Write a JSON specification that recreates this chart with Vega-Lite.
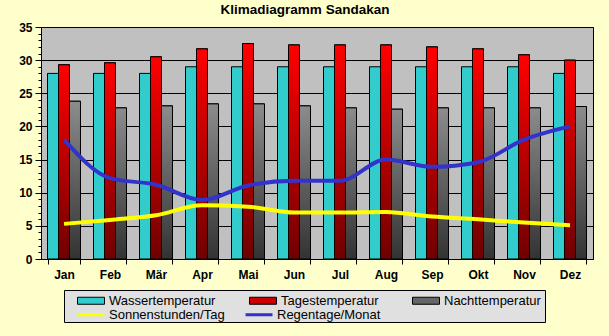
{
  "$schema": "https://vega.github.io/schema/vega-lite/v6.json",
  "width": 552,
  "height": 232,
  "autosize": {"type": "none"},
  "padding": {"left": 41, "top": 27, "right": 16, "bottom": 77},
  "background": "#FFFFCC",
  "title": {"text": "Klimadiagramm Sandakan", "fontSize": 13.5, "fontWeight": "bold", "font": "Liberation Sans", "anchor": "middle", "offset": 5, "dx": -12, "color": "#000"},
  "config": {
    "view": {"fill": "#C0C0C0", "stroke": "#000", "strokeWidth": 1},
    "font": "Liberation Sans"
  },
  "data": {"values": [
    {"m":"Jan","s":"Wassertemperatur","v":28},{"m":"Feb","s":"Wassertemperatur","v":28},{"m":"Mär","s":"Wassertemperatur","v":28},{"m":"Apr","s":"Wassertemperatur","v":29},{"m":"Mai","s":"Wassertemperatur","v":29},{"m":"Jun","s":"Wassertemperatur","v":29},{"m":"Jul","s":"Wassertemperatur","v":29},{"m":"Aug","s":"Wassertemperatur","v":29},{"m":"Sep","s":"Wassertemperatur","v":29},{"m":"Okt","s":"Wassertemperatur","v":29},{"m":"Nov","s":"Wassertemperatur","v":29},{"m":"Dez","s":"Wassertemperatur","v":28},
    {"m":"Jan","s":"Tagestemperatur","v":29.3},{"m":"Feb","s":"Tagestemperatur","v":29.6},{"m":"Mär","s":"Tagestemperatur","v":30.5},{"m":"Apr","s":"Tagestemperatur","v":31.7},{"m":"Mai","s":"Tagestemperatur","v":32.5},{"m":"Jun","s":"Tagestemperatur","v":32.3},{"m":"Jul","s":"Tagestemperatur","v":32.3},{"m":"Aug","s":"Tagestemperatur","v":32.3},{"m":"Sep","s":"Tagestemperatur","v":32.0},{"m":"Okt","s":"Tagestemperatur","v":31.7},{"m":"Nov","s":"Tagestemperatur","v":30.8},{"m":"Dez","s":"Tagestemperatur","v":30.0},
    {"m":"Jan","s":"Nachttemperatur","v":23.8},{"m":"Feb","s":"Nachttemperatur","v":22.8},{"m":"Mär","s":"Nachttemperatur","v":23.1},{"m":"Apr","s":"Nachttemperatur","v":23.4},{"m":"Mai","s":"Nachttemperatur","v":23.4},{"m":"Jun","s":"Nachttemperatur","v":23.1},{"m":"Jul","s":"Nachttemperatur","v":22.8},{"m":"Aug","s":"Nachttemperatur","v":22.6},{"m":"Sep","s":"Nachttemperatur","v":22.8},{"m":"Okt","s":"Nachttemperatur","v":22.8},{"m":"Nov","s":"Nachttemperatur","v":22.8},{"m":"Dez","s":"Nachttemperatur","v":23.0},
    {"m":"Jan","s":"Sonnenstunden/Tag","v":5.3},{"m":"Feb","s":"Sonnenstunden/Tag","v":5.9},{"m":"Mär","s":"Sonnenstunden/Tag","v":6.6},{"m":"Apr","s":"Sonnenstunden/Tag","v":8.1},{"m":"Mai","s":"Sonnenstunden/Tag","v":7.9},{"m":"Jun","s":"Sonnenstunden/Tag","v":7.0},{"m":"Jul","s":"Sonnenstunden/Tag","v":7.0},{"m":"Aug","s":"Sonnenstunden/Tag","v":7.1},{"m":"Sep","s":"Sonnenstunden/Tag","v":6.4},{"m":"Okt","s":"Sonnenstunden/Tag","v":6.0},{"m":"Nov","s":"Sonnenstunden/Tag","v":5.5},{"m":"Dez","s":"Sonnenstunden/Tag","v":5.1},
    {"m":"Jan","s":"Regentage/Monat","v":18},{"m":"Feb","s":"Regentage/Monat","v":12.2},{"m":"Mär","s":"Regentage/Monat","v":11.2},{"m":"Apr","s":"Regentage/Monat","v":8.9},{"m":"Mai","s":"Regentage/Monat","v":11.1},{"m":"Jun","s":"Regentage/Monat","v":11.8},{"m":"Jul","s":"Regentage/Monat","v":11.8},{"m":"Aug","s":"Regentage/Monat","v":15.0},{"m":"Sep","s":"Regentage/Monat","v":13.9},{"m":"Okt","s":"Regentage/Monat","v":14.6},{"m":"Nov","s":"Regentage/Monat","v":18.0},{"m":"Dez","s":"Regentage/Monat","v":20.0}
  ]},
  "encoding": {
    "x": {"field": "m", "type": "nominal", "title": null,
      "sort": ["Jan","Feb","Mär","Apr","Mai","Jun","Jul","Aug","Sep","Okt","Nov","Dez"],
      "scale": {"paddingInner": 0.283, "paddingOuter": 0.1415},
      "axis": {"labelAngle": 0, "tickBand": "extent", "tickSize": 5, "tickColor": "#000", "domainColor": "#000", "labelFont": "Liberation Sans", "labelFontSize": 12, "labelFontWeight": "bold", "labelColor": "#000", "labelPadding": 5}},
    "y": {"field": "v", "type": "quantitative", "title": null,
      "scale": {"domain": [0, 35], "nice": false},
      "axis": {"values": [0,1,2,3,4,5,6,7,8,9,10,11,12,13,14,15,16,17,18,19,20,21,22,23,24,25,26,27,28,29,30,31,32,33,34,35],
        "labelExpr": "datum.value % 5 === 0 ? datum.label : ''",
        "grid": true, "gridColor": "#000", "gridOpacity": {"condition": {"test": "datum.value % 5 === 0", "value": 1}, "value": 0},
        "tickSize": {"condition": {"test": "datum.value % 5 === 0", "value": 6}, "value": 3},
        "tickColor": "#000", "domainColor": "#000", "labelFont": "Liberation Sans", "labelFontSize": 12, "labelFontWeight": "bold", "labelColor": "#000", "labelPadding": 3, "labelBound": false, "labelFlush": false}}
  },
  "layer": [
    {
      "transform": [{"filter": "indexof(['Wassertemperatur','Tagestemperatur','Nachttemperatur'], datum.s) >= 0"}],
      "mark": {"type": "bar", "stroke": "#000", "strokeWidth": 1},
      "encoding": {
        "xOffset": {"field": "s", "type": "nominal", "scale": {"domain": ["Wassertemperatur","Tagestemperatur","Nachttemperatur"], "paddingInner": 0, "paddingOuter": 0}},
        "fill": {"field": "s", "type": "nominal",
          "scale": {"domain": ["Wassertemperatur","Tagestemperatur","Nachttemperatur"], "range": ["#33CCCC","#CC0000","#666666"]},
          "legend": {"title": "                                                                                                                                                             ", "titleOrient": "bottom", "titleFontSize": 9, "titlePadding": 1, "titleAnchor": "start",
            "orient": "none", "legendX": 23, "legendY": 263, "direction": "horizontal", "columns": 3, "gridAlign": "each",
            "columnPadding": 24, "padding": 4, "symbolOffset": 8,
            "fillColor": "#E0E0E0", "strokeColor": "#000",
            "labelFont": "Liberation Sans", "labelFontSize": 13, "labelColor": "#000", "labelOffset": 20,
            "symbolType": "M-1,-0.7H4.4V0.7H-1Z", "symbolSize": 100, "symbolStrokeColor": "#000", "symbolStrokeWidth": 1, "symbolOpacity": 1}
        }
      }
    },
    {
      "transform": [{"filter": "datum.s === 'Tagestemperatur'"}],
      "mark": {"type": "bar", "stroke": "#000", "strokeWidth": 1,
        "color": {"gradient": "linear", "x1": 0, "y1": 0, "x2": 0, "y2": 1, "stops": [{"offset": 0, "color": "#FF0000"}, {"offset": 1, "color": "#700000"}]}},
      "encoding": {"xOffset": {"field": "s", "type": "nominal"}}
    },
    {
      "transform": [{"filter": "datum.s === 'Nachttemperatur'"}],
      "mark": {"type": "bar", "stroke": "#000", "strokeWidth": 1,
        "color": {"gradient": "linear", "x1": 0, "y1": 0, "x2": 0, "y2": 1, "stops": [{"offset": 0, "color": "#8C8C8C"}, {"offset": 1, "color": "#333333"}]}},
      "encoding": {"xOffset": {"field": "s", "type": "nominal"}}
    },
    {
      "transform": [{"filter": "datum.s === 'Sonnenstunden/Tag' || datum.s === 'Regentage/Monat'"}],
      "mark": {"type": "line", "strokeWidth": 4, "interpolate": "monotone"},
      "encoding": {"stroke": {"field": "s", "type": "nominal",
        "scale": {"domain": ["Sonnenstunden/Tag","Regentage/Monat"], "range": ["#FFFF00","#3333CC"]},
        "legend": {"title": null, "orient": "none", "legendX": 23, "legendY": 277, "direction": "horizontal", "columns": 2, "gridAlign": "each",
          "columnPadding": 11, "padding": 4, "symbolOffset": 8,
          "labelFont": "Liberation Sans", "labelFontSize": 13, "labelColor": "#000", "labelOffset": 20,
          "symbolType": "M-1,0H4.4", "symbolSize": 100, "symbolStrokeWidth": 3, "symbolOpacity": 1}}}
    }
  ]
}
